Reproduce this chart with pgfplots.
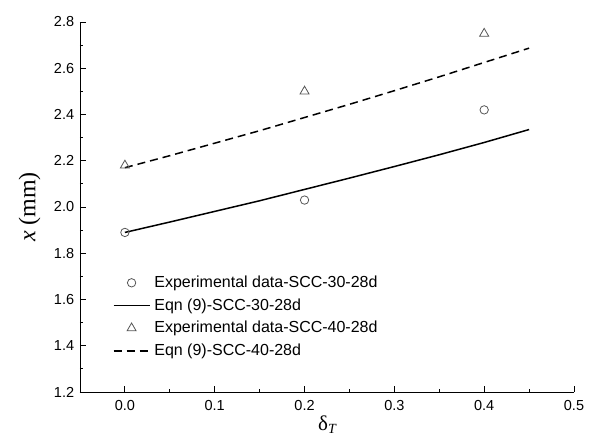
\documentclass[border=0pt]{standalone}
\usepackage{fontspec}
\setmainfont{Liberation Sans}
\newfontfamily\serif{Liberation Serif}
\usepackage{pgfplots}
\pgfplotsset{compat=1.18}
\definecolor{mk}{RGB}{85,85,85}
\begin{document}
\fontsize{14}{16.8}\selectfont
\begin{tikzpicture}
\begin{axis}[
  width=494pt,height=370pt,scale only axis,
  xmin=-0.05,xmax=0.5,ymin=1.2,ymax=2.8,
  axis x line*=bottom,axis y line*=left,
  axis line style={line width=0.9pt},
  xtick={0,0.1,...,0.5},ytick={1.2,1.4,...,2.8},
  minor x tick num=1,minor y tick num=1,
  tick align=inside,
  major tick length=6pt,minor tick length=3.5pt,
  tick style={black,line width=0.9pt},
  /pgf/number format/.cd,fixed,fixed zerofill,precision=1,assume math mode=true,
  /pgfplots/.cd,
  ticklabel style={font=\fontsize{14.5}{17}\selectfont},
  xticklabel style={yshift=-4pt},
  yticklabel style={xshift=-1pt},
  xlabel={{\serif\fontsize{21}{24}\selectfont δ\raisebox{-0.3ex}{\fontsize{14}{16}\selectfont\itshape T}}},
  ylabel={{\serif\fontsize{24}{28}\selectfont\textit{x} (mm)}},
  xlabel style={yshift=5pt},
  ylabel style={yshift=4pt},
  legend cell align=left,
  legend style={draw=none,fill=none,at={(axis cs:-0.017,1.72)},anchor=north west,
    font=\fontsize{16}{19}\selectfont,row sep=5pt,
    nodes={inner xsep=4pt}},
  legend image code/.code={\draw[mark repeat=2,mark phase=2] plot coordinates {(0pt,0pt) (18pt,0pt) (36pt,0pt)};},
]
\addplot[only marks,mark=o,mark size=4.2pt,mk,mark options={line width=0.8pt}] coordinates {(0,1.89)(0.2,2.03)(0.4,2.42)};
\addlegendentry{Experimental data-SCC-30-28d}
\addplot[black,line width=1.5pt] coordinates {(0,1.890)(0.05,1.935)(0.1,1.981)(0.15,2.027)(0.2,2.076)(0.25,2.125)(0.3,2.175)(0.35,2.226)(0.4,2.279)(0.45,2.335)};
\addlegendentry{Eqn (9)-SCC-30-28d}
\addplot[only marks,mark=triangle,mark size=5.2pt,mk,mark options={line width=0.8pt}] coordinates {(0,2.18)(0.2,2.50)(0.4,2.75)};
\addlegendentry{Experimental data-SCC-40-28d}
\addplot[black,line width=1.5pt,dash pattern=on 8pt off 5pt] coordinates {(0,2.170)(0.05,2.222)(0.1,2.276)(0.15,2.330)(0.2,2.387)(0.25,2.444)(0.3,2.503)(0.35,2.563)(0.4,2.625)(0.45,2.687)};
\addlegendentry{Eqn (9)-SCC-40-28d}
\end{axis}
\path ([xshift=-80pt,yshift=-48pt]current axis.south west) rectangle ([xshift=20pt,yshift=22pt]current axis.north east);
\end{tikzpicture}
\end{document}
